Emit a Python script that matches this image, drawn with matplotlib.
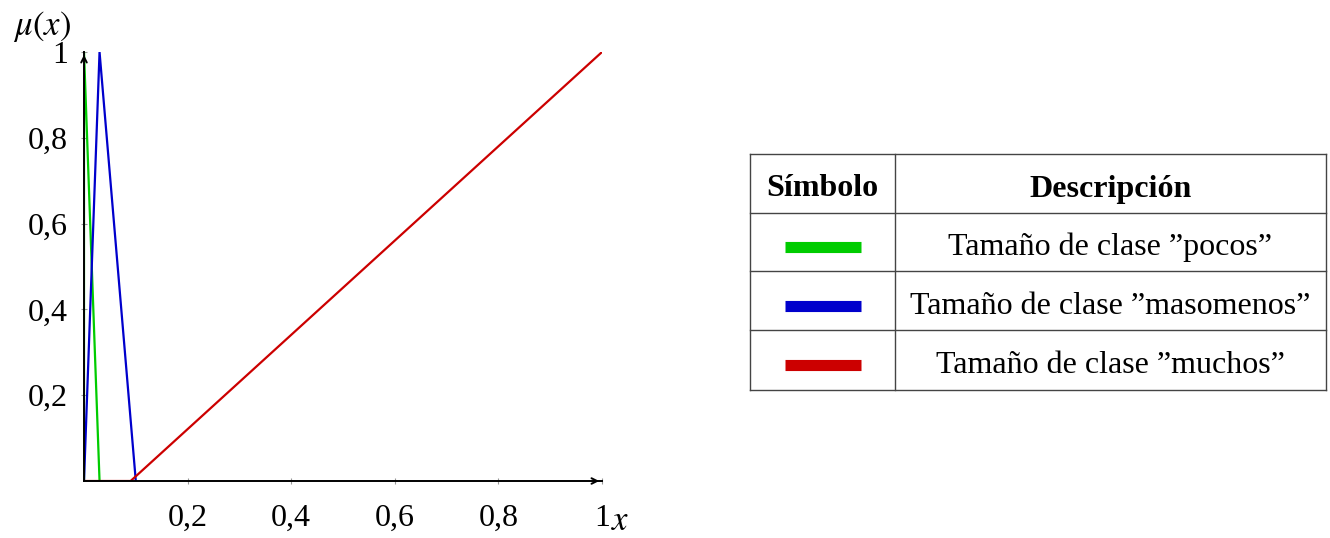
import matplotlib.pyplot as plt
from matplotlib.ticker import FuncFormatter

plt.rcParams['font.family'] = ['Liberation Serif', 'DejaVu Serif']
plt.rcParams['mathtext.fontset'] = 'stix'

# membership functions
x_pocos = [0, 0, 0.03]
y_pocos = [0, 1, 0]
x_maso = [0, 0.03, 0.1]
y_maso = [0, 1, 0]
x_muchos = [0, 0.09, 1]
y_muchos = [0, 0, 1]

ticks = [0.2, 0.4, 0.6, 0.8, 1]
headers = ['Símbolo', 'Descripción']
labels = ['Tamaño de clase ”pocos”', 'Tamaño de clase ”masomenos”', 'Tamaño de clase ”muchos”']
colors = ['#00cc00', '#0000cc', '#cc0000']

W, H = 1330, 538
fig = plt.figure(figsize=(W / 100, H / 100), dpi=100)
ax = fig.add_axes([84 / W, 1 - 481 / H, (602 - 84) / W, (481 - 52) / H])

ax.plot(x_pocos, y_pocos, color=colors[0], lw=1.6)
ax.plot(x_maso, y_maso, color=colors[1], lw=1.6)
ax.plot(x_muchos, y_muchos, color=colors[2], lw=1.6)

ax.set_xlim(0, 1)
ax.set_ylim(0, 1)
for s in ['top', 'right']:
    ax.spines[s].set_visible(False)
for s in ['left', 'bottom']:
    ax.spines[s].set_linewidth(1.4)
ax.annotate('', xy=(1.0, 0), xytext=(0.98, 0), xycoords='axes fraction',
            arrowprops=dict(arrowstyle='->', color='black', lw=1.4))
ax.annotate('', xy=(0, 1.0), xytext=(0, 0.98), xycoords='axes fraction',
            arrowprops=dict(arrowstyle='->', color='black', lw=1.4))

fmt = FuncFormatter(lambda v, p: ('%g' % v).replace('.', ','))
ax.set_xticks(ticks)
ax.set_yticks(ticks)
ax.xaxis.set_major_formatter(fmt)
ax.yaxis.set_major_formatter(fmt)
ax.tick_params(direction='inout', length=5, color='#999999', labelsize=23)
ax.tick_params(axis='x', pad=14)
ax.tick_params(axis='y', pad=9)
ax.text(-0.08, 1.06, r'$\mu(x)$', transform=ax.transAxes, ha='center', va='center', fontsize=25)
ax.text(1.035, -0.095, r'$x$', transform=ax.transAxes, ha='center', va='center', fontsize=25)

# table drawn in pixel coordinates on an overlay axes
tx = fig.add_axes([0, 0, 1, 1])
tx.set_xlim(0, W)
tx.set_ylim(H, 0)
tx.axis('off')
left, mid, right = 750, 895, 1326
rows = [154, 213, 271, 330, 390]
for yy in rows:
    tx.plot([left, right], [yy, yy], color='#444444', lw=1)
for xx in [left, mid, right]:
    tx.plot([xx, xx], [rows[0], rows[-1]], color='#444444', lw=1)
yh = (rows[0] + rows[1]) / 2 + 2
tx.text((left + mid) / 2, yh, headers[0], ha='center', va='center_baseline',
        fontsize=23, fontweight='bold')
tx.text((mid + right) / 2, yh, headers[1], ha='center', va='center_baseline',
        fontsize=23, fontweight='bold')
for i, (lab, c) in enumerate(zip(labels, colors)):
    yc = (rows[i + 1] + rows[i + 2]) / 2
    tx.plot([785, 861], [yc + 5, yc + 5], color=c, lw=8, solid_capstyle='butt')
    tx.text((mid + right) / 2, yc + 2, lab, ha='center', va='center_baseline', fontsize=23)

fig.savefig('out.png', dpi=100)
